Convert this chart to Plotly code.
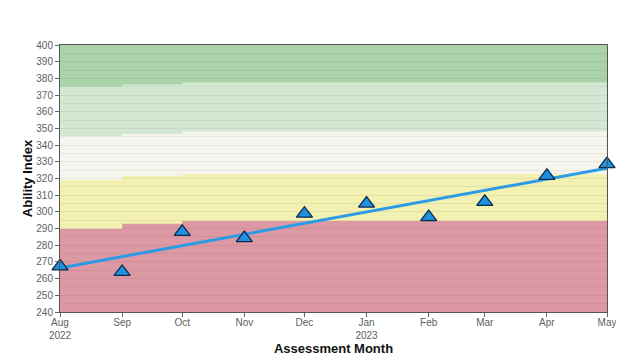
import plotly.graph_objects as go

# ---- data ----
months = ["2022-08-01", "2022-09-01", "2022-10-01", "2022-11-01", "2022-12-01",
          "2023-01-01", "2023-02-01", "2023-03-01", "2023-04-01", "2023-05-01"]
month_labels = ["Aug<br>2022", "Sep", "Oct", "Nov", "Dec", "Jan<br>2023",
                "Feb", "Mar", "Apr", "May"]
scores = [267.3, 264.0, 288.0, 284.3, 298.9, 305.0, 296.9, 306.0, 321.6, 328.6]

trend_dates = ["2022-08-01", "2023-05-01"]
trend_values = [266.4, 326.2]

# band segments (start) and boundaries per segment
seg_starts = ["2022-08-01", "2022-09-01", "2022-10-01"]
range_end = "2023-05-01"
bound_red_yellow = [290.0, 293.0, 294.7]
bound_yellow_white = [319.2, 321.8, 322.8]
bound_white_lgreen = [345.5, 346.7, 348.3]
bound_lgreen_dgreen = [375.0, 376.5, 377.7]
y_min, y_max = 240, 400

band_colors = ["#dc99a3", "#f3f1b1", "#f5f5ee", "#d3e8d2", "#aad3a9"]

fig = go.Figure()

lows = [[y_min] * 3, bound_red_yellow, bound_yellow_white, bound_white_lgreen, bound_lgreen_dgreen]
highs = [bound_red_yellow, bound_yellow_white, bound_white_lgreen, bound_lgreen_dgreen, [y_max] * 3]
shapes = []
for i in range(3):
    for band, color in enumerate(band_colors):
        shapes.append(dict(type="rect", xref="x", yref="y", layer="below",
                           x0=seg_starts[i], x1=range_end,
                           y0=lows[band][i], y1=highs[band][i],
                           fillcolor=color, line=dict(width=0)))

fig.add_trace(go.Scatter(x=trend_dates, y=trend_values, mode="lines",
                         line=dict(color="#2b9be6", width=3), hoverinfo="skip",
                         showlegend=False))
fig.add_trace(go.Scatter(x=months, y=scores, mode="markers",
                         marker=dict(symbol="triangle-up", size=14, color="#1f8fdf",
                                     line=dict(color="#0d2a4a", width=1.3)),
                         cliponaxis=False, showlegend=False))

font_family = "Liberation Sans, Arial, sans-serif"
fig.update_layout(
    width=616, height=354,
    margin=dict(l=52, r=17, t=37, b=50, autoexpand=False),
    paper_bgcolor="white", plot_bgcolor="white",
    shapes=shapes,
    font=dict(family=font_family, size=10, color="#606060"),
    xaxis=dict(type="date", range=["2022-08-01", "2023-05-01"],
               tickvals=months, ticktext=month_labels, automargin=False,
               ticks="outside", ticklen=4, tickcolor="#666666",
               ticklabelstandoff=-3,
               showgrid=False, zeroline=False,
               showline=True, linecolor="#555555", linewidth=1, mirror=True,
               tickfont=dict(size=10, color="#606060"),
               title=dict(text="<b>Assessment Month</b>", standoff=2,
                          font=dict(size=13, color="#111111"))),
    yaxis=dict(range=[y_min, y_max], dtick=10, tick0=0, automargin=False,
               ticks="outside", ticklen=4, tickcolor="#666666",
               showgrid=True, gridcolor="rgba(0,0,0,0.06)", gridwidth=1,
               minor=dict(dtick=5, showgrid=True, gridcolor="rgba(0,0,0,0.06)"),
               zeroline=False,
               showline=True, linecolor="#555555", linewidth=1, mirror=True,
               tickfont=dict(size=10, color="#606060"),
               title=dict(text="<b>Ability Index</b>", standoff=0,
                          font=dict(size=13, color="#111111"))),
)

fig.write_html("out.html")
